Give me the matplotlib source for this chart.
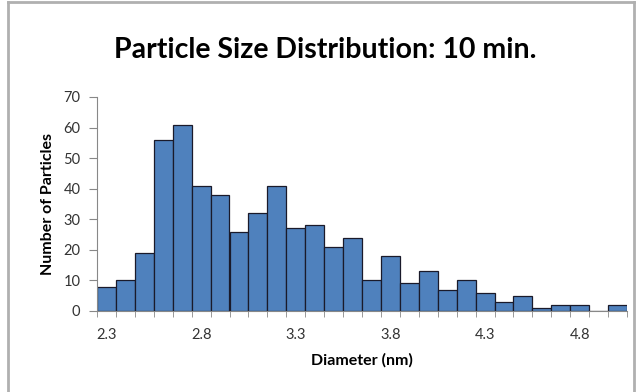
import matplotlib
matplotlib.use("Agg")
import matplotlib.pyplot as plt
from matplotlib.lines import Line2D

plt.rcParams['font.family'] = ['Lato', 'DejaVu Sans']

# bin labels (nm) and counts per bin
diameters = [round(2.3 + 0.1 * i, 1) for i in range(28)]
counts = [8, 10, 19, 56, 61, 41, 38, 26, 32, 41, 27, 28, 21, 24,
          10, 18, 9, 13, 7, 10, 6, 3, 5, 1, 2, 2, 0, 2]
shown_labels = ['2.3', '2.8', '3.3', '3.8', '4.3', '4.8']

fig = plt.figure(figsize=(6.37, 3.92), dpi=100)
ax = fig.add_axes([97/637, 81/392, 530/637, 214/392])

x = list(range(len(counts)))
ax.bar(x, counts, width=1.0, color='#4F81BD', edgecolor='#1a1a2a', linewidth=0.9)

ax.set_xlim(-0.5, len(counts) - 0.5)
ax.set_ylim(0, 70)
ax.set_yticks(range(0, 71, 10))

# category labels every 5th bin, tick marks at bin boundaries
ax.set_xticks([i for i, d in enumerate(diameters) if f"{d:.1f}" in shown_labels])
ax.set_xticklabels(shown_labels)
ax.tick_params(axis='x', length=0, pad=12, labelsize=10.5, labelcolor='#333333')
ax.set_xticks([i - 0.5 for i in range(len(counts) + 1)], minor=True)
ax.tick_params(axis='x', which='minor', length=4, color='#888888', direction='out')
ax.tick_params(axis='y', length=6, color='#888888', labelsize=10.5, labelcolor='#333333', pad=6)

for s in ['top', 'right']:
    ax.spines[s].set_visible(False)
ax.spines['left'].set_color('#888888')
ax.spines['bottom'].set_color('#888888')

ax.set_xlabel('Diameter (nm)', fontsize=11.5, fontweight='bold', labelpad=8)
ax.set_ylabel('Number of Particles', fontsize=11.5, fontweight='bold', labelpad=6)

fig.text(0.51, 0.872, 'Particle Size Distribution: 10 min.', ha='center', va='center',
         fontsize=20.5, fontweight='bold')

# chart frame
for xs, ys in [([8/637, 8/637], [0, 1 - 2/392]), ([8/637, 634/637], [1 - 2/392, 1 - 2/392]),
               ([634/637, 634/637], [0, 1 - 2/392])]:
    fig.add_artist(Line2D(xs, ys, color='#b0b0b0', linewidth=2, transform=fig.transFigure))

fig.savefig('out.png', dpi=100)
